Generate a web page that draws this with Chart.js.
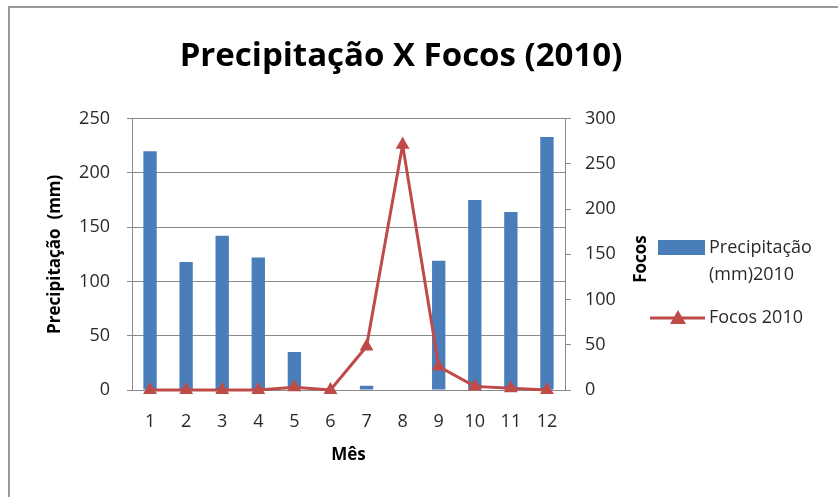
<!DOCTYPE html>
<html>
<head>
<meta charset="utf-8">
<script src="https://cdn.jsdelivr.net/npm/chart.js@4/dist/chart.umd.min.js"></script>
<style>
  html, body { margin: 0; padding: 0; background: #fff; }
  #wrap { width: 838px; height: 497px; position: relative; }
</style>
</head>
<body>
<div id="wrap"><canvas id="chart" width="838" height="497"></canvas></div>
<script>
// months on the x axis
var meses = ["1","2","3","4","5","6","7","8","9","10","11","12"];
// rainfall per month (mm), left axis
var precipitacao = [220, 118, 142, 122, 35, 0, 4, 0, 119, 175, 164, 233];
// fire counts per month, right axis
var focos = [0, 0, 0, 0, 3, 0, 48, 271, 26, 4, 2, 0];

var FONT = "'Open Sans', Lato, sans-serif";
var AXIS_GRAY = "#8a8a8a";
var TICK_COLOR = "#2a2a2a";

// chart frame, right axis title and the two-line legend
var extras = {
    id: "extras",
    afterDraw: function (chart) {
        var c = chart.ctx;
        c.save();
        // outer frame (only top and left edges are visible in the crop)
        c.strokeStyle = "#9a9a9a";
        c.lineWidth = 2;
        c.beginPath();
        c.moveTo(9, 497);
        c.lineTo(9, 7);
        c.lineTo(838, 7);
        c.stroke();

        // right axis title, reading bottom to top
        c.fillStyle = "#000";
        c.font = "bold 17px " + FONT;
        c.textAlign = "center";
        c.textBaseline = "middle";
        c.translate(641, 259);
        c.rotate(-Math.PI / 2);
        c.fillText("Focos", 0, 0);
        c.setTransform(1, 0, 0, 1, 0, 0);

        // legend
        var bar = chart.data.datasets[1];
        var line = chart.data.datasets[0];
        c.font = "18px " + FONT;
        c.textAlign = "left";
        c.fillStyle = bar.backgroundColor;
        c.fillRect(658, 240, 47, 15);
        c.fillStyle = TICK_COLOR;
        c.fillText(bar.label[0], 709, 248);
        c.fillText(bar.label[1], 709, 275);

        c.strokeStyle = line.borderColor;
        c.lineWidth = 3;
        c.beginPath();
        c.moveTo(650, 318);
        c.lineTo(705, 318);
        c.stroke();
        c.fillStyle = line.backgroundColor;
        c.beginPath();
        c.moveTo(678, 310);
        c.lineTo(686, 324);
        c.lineTo(670, 324);
        c.closePath();
        c.fill();
        c.fillStyle = TICK_COLOR;
        c.fillText(line.label, 709, 318);
        c.restore();
    }
};

new Chart(document.getElementById("chart").getContext("2d"), {
    data: {
        labels: meses,
        datasets: [
            {
                type: "line",
                label: "Focos 2010",
                data: focos,
                yAxisID: "y1",
                borderColor: "#be4b48",
                backgroundColor: "#be4b48",
                borderWidth: 3,
                pointStyle: "triangle",
                pointRadius: 8,
                pointBorderWidth: 0,
                tension: 0,
                clip: false,
                order: 0
            },
            {
                type: "bar",
                label: ["Precipitação", "(mm)2010"],
                data: precipitacao,
                yAxisID: "y",
                backgroundColor: "#4a7ebb",
                barPercentage: 0.37,
                categoryPercentage: 1,
                order: 1
            }
        ]
    },
    options: {
        responsive: false,
        animation: false,
        layout: { padding: { left: 0, right: 36, top: 0, bottom: 0 } },
        plugins: {
            legend: { display: false },
            tooltip: { enabled: false },
            title: {
                display: true,
                text: "Precipitação X Focos (2010)",
                color: "#000",
                font: { family: FONT, size: 33, weight: "bold" },
                padding: { top: 37, bottom: 42 }
            }
        },
        scales: {
            x: {
                grid: { display: false },
                border: { display: true, color: AXIS_GRAY },
                ticks: { color: TICK_COLOR, font: { family: FONT, size: 18 }, padding: 13 },
                title: {
                    display: true, text: "Mês", color: "#000",
                    font: { family: FONT, size: 17, weight: "bold" },
                    padding: { top: 0, bottom: 32 }
                },
                afterFit: function (s) { s.height = 107; }
            },
            y: {
                position: "left",
                min: 0, max: 250,
                ticks: { stepSize: 50, color: TICK_COLOR, font: { family: FONT, size: 18 }, padding: 17 },
                grid: { color: AXIS_GRAY, tickLength: 5 },
                border: { display: true, color: AXIS_GRAY },
                title: {
                    display: true, text: "Precipitação  (mm)", color: "#000",
                    font: { family: FONT, size: 17, weight: "bold" },
                    padding: { top: 45 }
                },
                afterFit: function (s) { s.width = 132; }
            },
            y1: {
                position: "right",
                min: 0, max: 300,
                ticks: { stepSize: 50, color: TICK_COLOR, font: { family: FONT, size: 18 }, padding: 14 },
                grid: { drawOnChartArea: false, color: AXIS_GRAY, tickLength: 6 },
                border: { display: true, color: AXIS_GRAY },
                afterFit: function (s) { s.width = 237; }
            }
        }
    },
    plugins: [extras]
});
</script>
</body>
</html>
